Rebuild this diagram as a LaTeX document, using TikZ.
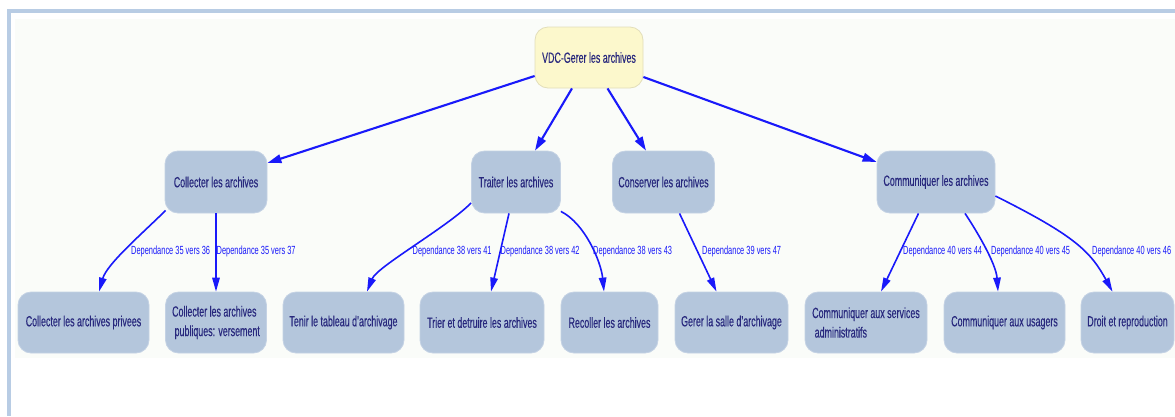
\documentclass[tikz,border=0pt]{standalone}
\usepackage{fontspec}
\setmainfont[FakeStretch=0.6,FakeBold=0.35]{Liberation Sans}
\newfontfamily\labfont[FakeStretch=0.63]{Liberation Sans}
\usetikzlibrary{arrows.meta}
\definecolor{framec}{RGB}{184,204,228}
\definecolor{bgc}{RGB}{250,252,249}
\definecolor{boxfill}{RGB}{180,198,220}
\definecolor{boxedge}{RGB}{196,210,228}
\definecolor{rootfill}{RGB}{252,248,204}
\definecolor{rootedge}{RGB}{226,222,186}
\definecolor{txtc}{RGB}{40,40,125}
\definecolor{edgec}{RGB}{25,25,250}
\tikzset{
  box/.style={draw=boxedge, line width=0.8pt, fill=boxfill, rounded corners=13pt,
    inner sep=0pt, text=txtc, font=\fontsize{14.8}{19.5}\selectfont, align=left},
  rootbox/.style={box, draw=rootedge, fill=rootfill},
  topedge/.style={draw=edgec, line width=2.1pt, -{Triangle[length=14pt,width=8.5pt]}},
  lowedge/.style={draw=edgec, line width=1.6pt, -{Triangle[length=14pt,width=7.5pt]}},
  deplabel/.style={anchor=west, inner sep=0pt, text=edgec, font=\labfont\fontsize{11.8}{13}\selectfont}
}
\begin{document}
\begin{tikzpicture}[x=1pt,y=-1pt]
\useasboundingbox (0,0) rectangle (1175,416);
\fill[white] (0,0) rectangle (1175,416);
\fill[bgc] (15,19) rectangle (1175,358);
\fill[framec] (7,9) rectangle (1175,13);
\fill[framec] (7,9) rectangle (11,416);

% root
\node[rootbox, minimum width=108pt, minimum height=61pt] (root) at (589,57.5) {VDC-Gerer les archives};

% level 2
\node[box, minimum width=102pt, minimum height=62pt] (c1) at (216,182) {Collecter les archives};
\node[box, minimum width=89pt, minimum height=62pt] (c2) at (516,182) {Traiter les archives};
\node[box, minimum width=102pt, minimum height=62pt] (c3) at (663.5,182) {Conserver les archives};
\node[box, minimum width=118pt, minimum height=62pt] (c4) at (936,182) {Communiquer les archives};

% level 3
\node[box, minimum width=131pt, minimum height=61pt] (d1) at (83.5,322.5) {Collecter les archives privees};
\node[box, minimum width=101pt, minimum height=61pt] (d2) at (216,322.5) {Collecter les archives\\\hspace*{2.5pt}publiques: versement};
\node[box, minimum width=121pt, minimum height=61pt] (d3) at (343.5,322.5) {Tenir le tableau d'archivage};
\node[box, minimum width=124pt, minimum height=61pt] (d4) at (482,322.5) {Trier et detruire les archives};
\node[box, minimum width=97pt, minimum height=61pt] (d5) at (609.5,322.5) {Recoller les archives};
\node[box, minimum width=113pt, minimum height=61pt] (d6) at (731.5,322.5) {Gerer la salle d'archivage};
\node[box, minimum width=122pt, minimum height=61pt] (d7) at (866,322.5) {Communiquer aux services\\\hspace*{2.5pt}administratifs};
\node[box, minimum width=121pt, minimum height=61pt] (d8) at (1004.5,322.5) {Communiquer aux usagers};
\node[box, minimum width=93pt, minimum height=61pt] (d9) at (1127.5,322.5) {Droit et reproduction};

% top edges
\draw[topedge] ([yshift=-18.5pt]root.west) -- ([yshift=19pt]c1.east);
\draw[topedge] ([xshift=-17pt]root.south) -- ([xshift=19pt]c2.north);
\draw[topedge] ([xshift=18.5pt]root.south) -- ([xshift=-17.5pt]c3.north);
\draw[topedge] ([yshift=-19.5pt]root.east) -- ([yshift=20pt]c4.west);

% lower edges
\draw[lowedge] ([xshift=1pt,yshift=3pt]c1.south west) .. controls +(-22,22) and +(8,-28) .. ([xshift=15.5pt]d1.north);
\draw[lowedge] (c1.south) -- (d2.north);
\draw[lowedge] ([yshift=-21pt]c2.west) .. controls +(-25,25) and +(10,-25) .. ([xshift=23.5pt]d3.north);
\draw[lowedge] ([xshift=-7pt]c2.south) -- ([xshift=9pt]d4.north);
\draw[lowedge] ([yshift=2pt]c2.south east) .. controls +(24,12) and +(-3,-30) .. ([xshift=-5.5pt]d5.north);
\draw[lowedge] ([xshift=16pt]c3.south) -- ([xshift=-15pt]d6.north);
\draw[lowedge] ([xshift=-17.5pt]c4.south) -- ([xshift=15pt]d7.north);
\draw[lowedge] ([xshift=29pt]c4.south) .. controls +(12,18) and +(-2,-28) .. ([xshift=-6.5pt]d8.north);
\draw[lowedge] ([yshift=-14pt]c4.east) .. controls +(80,40) and +(-22,-40) .. ([xshift=-15pt]d9.north);

% labels
\node[deplabel] (l1) at (131,251) {Dependance 35 vers 36};
\node[deplabel] (l2) at (216.5,251) {Dependance 35 vers 37};
\node[deplabel] (l3) at (412.5,251) {Dependance 38 vers 41};
\node[deplabel] (l4) at (500.5,251) {Dependance 38 vers 42};
\node[deplabel] (l5) at (593,251) {Dependance 38 vers 43};
\node[deplabel] (l6) at (702,251) {Dependance 39 vers 47};
\node[deplabel] (l7) at (903,251) {Dependance 40 vers 44};
\node[deplabel] (l8) at (991,251) {Dependance 40 vers 45};
\node[deplabel] (l9) at (1092,251) {Dependance 40 vers 46};
\end{tikzpicture}
\end{document}
